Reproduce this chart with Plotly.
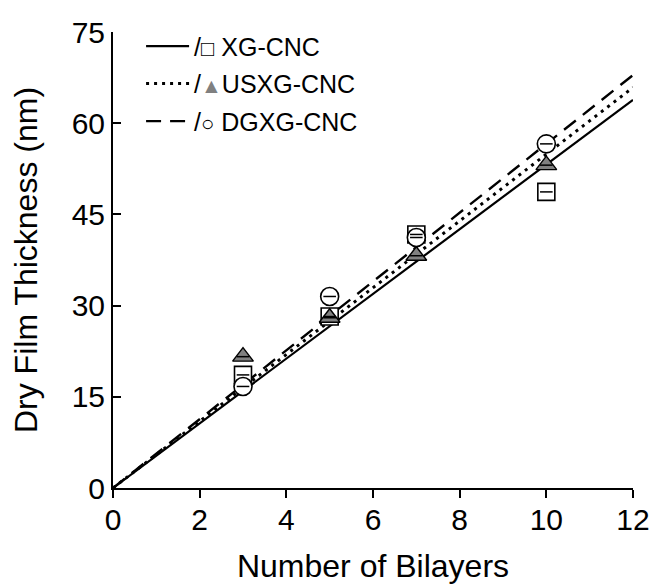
import plotly.graph_objects as go

# ---- data ----
bilayers = [3, 5, 7, 10]
xg_cnc = [18.6, 28.2, 41.7, 48.7]
usxg_cnc = [21.6, 28.0, 38.2, 53.1]
dgxg_cnc = [16.7, 31.5, 41.2, 56.6]

fit_x = [0, 12]
slope_xg = 5.32
slope_usxg = 5.49
slope_dgxg = 5.66

x_ticks = [0, 2, 4, 6, 8, 10, 12]
y_ticks = [0, 15, 30, 45, 60, 75]

FONT = "Liberation Sans, Arial, sans-serif"

fig = go.Figure()

# fit lines (shown in legend)
fig.add_trace(go.Scatter(x=fit_x, y=[slope_xg * v for v in fit_x], mode="lines",
                         legendgroup="a",
                         line=dict(color="black", width=2.2, dash="solid"),
                         name="/<span style='font-size:22px'>□</span> XG-CNC"))
fig.add_trace(go.Scatter(x=fit_x, y=[slope_usxg * v for v in fit_x], mode="lines",
                         legendgroup="b",
                         line=dict(color="black", width=3, dash="3px,5px"),
                         name="/<span style='color:#808080;font-size:21px'>▲</span>USXG-CNC"))
fig.add_trace(go.Scatter(x=fit_x, y=[slope_dgxg * v for v in fit_x], mode="lines",
                         legendgroup="c",
                         line=dict(color="black", width=2.4, dash="15px,9px"),
                         name="/<span style='font-size:22px'>○</span> DGXG-CNC"))

# markers
fig.add_trace(go.Scatter(x=bilayers, y=xg_cnc, mode="markers", showlegend=False,
                         marker=dict(symbol="square", size=17, color="white",
                                     line=dict(color="black", width=1.6))))
fig.add_trace(go.Scatter(x=bilayers, y=usxg_cnc, mode="markers", showlegend=False,
                         marker=dict(symbol="triangle-up", size=18, color="#808080",
                                     line=dict(color="black", width=1.4))))
fig.add_trace(go.Scatter(x=bilayers, y=dgxg_cnc, mode="markers", showlegend=False,
                         marker=dict(symbol="circle", size=18, color="white",
                                     line=dict(color="black", width=1.6))))
# tiny error-bar dashes inside markers
for ys in (xg_cnc, usxg_cnc, dgxg_cnc):
    fig.add_trace(go.Scatter(x=bilayers, y=ys, mode="markers", showlegend=False,
                             marker=dict(symbol="line-ew", size=9,
                                         line=dict(color="black", width=1.5))))

tick_font = dict(family=FONT, size=30, color="black")
title_font = dict(family=FONT, size=32, color="black")

fig.update_layout(
    width=657, height=584,
    margin=dict(l=105, r=32, t=24, b=104),
    paper_bgcolor="white", plot_bgcolor="white",
    font=tick_font,
    showlegend=True,
    legend=dict(x=0.054, y=1.019, xanchor="left", yanchor="top",
                bgcolor="rgba(0,0,0,0)", tracegroupgap=2, itemwidth=43,
                font=dict(family=FONT, size=25, color="black")),
    xaxis=dict(range=[0, 12], tickvals=x_ticks, ticks="outside", ticklen=8, tickwidth=2,
               tickcolor="black", showline=True, linecolor="black", linewidth=2,
               showgrid=False, zeroline=False, tickfont=tick_font, automargin=False,
               ticklabelstandoff=-4,
               title=dict(text="Number of Bilayers", font=title_font, standoff=20)),
    yaxis=dict(range=[0, 75], tickvals=y_ticks, ticks="inside", ticklen=8, tickwidth=2,
               tickcolor="black", showline=True, linecolor="black", linewidth=2,
               showgrid=False, zeroline=False, tickfont=tick_font, automargin=False,
               title=dict(text="Dry Film Thickness (nm)", font=title_font, standoff=40)),
)

fig.write_html("out.html")
